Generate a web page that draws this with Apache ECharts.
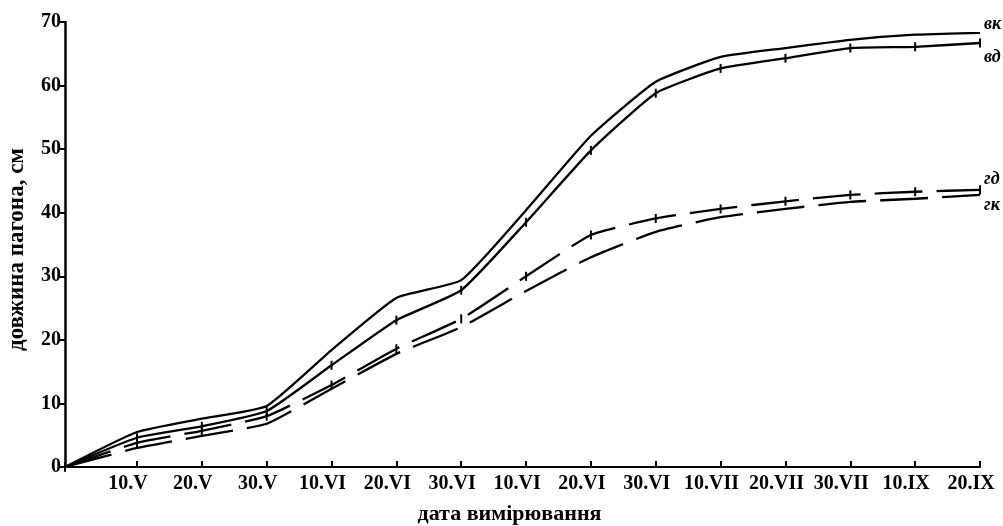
<!DOCTYPE html>
<html>
<head>
<meta charset="utf-8">
<script src="https://cdn.jsdelivr.net/npm/echarts@6/dist/echarts.min.js"></script>
<style>
html,body{margin:0;padding:0;background:#fff;}
#chart{width:1003px;height:526px;}
</style>
</head>
<body>
<div id="chart"></div>
<script>
// date labels (as printed on the original axis)
const dateLabels = ['10.V','20.V','30.V','10.VI','20.VI','30.VI','10.VI','20.VI','30.VI','10.VII','20.VII','30.VII','10.IX','20.IX'];
// measurement positions in 10-day steps (first = start of observation)
const xIndex = [-1.11, 0, 1, 2, 3, 4, 5, 6, 7, 8, 9, 10, 11, 12, 13];
// series values, cm
const vkValues = [0, 5.5, 7.6, 9.6, 18.4, 26.6, 29.4, 40.4, 52.1, 60.6, 64.5, 65.9, 67.2, 68.0, 68.3];
const vdValues = [0, 4.6, 6.4, 8.8, 16.0, 23.1, 27.8, 38.5, 49.8, 58.8, 62.7, 64.3, 65.9, 66.1, 66.7];
const gdValues = [0, 3.8, 5.7, 8.0, 12.9, 18.6, 23.3, 30.0, 36.5, 39.1, 40.6, 41.8, 42.8, 43.3, 43.6];
const gkValues = [0, 3.0, 4.9, 6.8, 12.3, 17.8, 22.0, 27.7, 33.0, 37.0, 39.3, 40.6, 41.7, 42.2, 42.8];

const tickIdx = dateLabels.map((_, i) => i);
const pairs = vals => vals.map((v, i) => [xIndex[i], v]);
const serif = 'Liberation Serif';

function makeSeries(name, vals, dashed, ticks, labelDy) {
  return {
    name: name,
    type: 'line',
    data: pairs(vals),
    smooth: 0.15,
    symbol: ticks ? 'rect' : 'none',
    symbolSize: [2, 9],
    showSymbol: ticks,
    itemStyle: { color: '#000' },
    lineStyle: { color: '#000', width: 2.3, type: dashed ? [48, 14] : 'solid' },
    endLabel: {
      show: true,
      formatter: name,
      distance: 4,
      offset: [0, labelDy],
      color: '#000',
      fontFamily: serif,
      fontStyle: 'italic',
      fontWeight: 'bold',
      fontSize: 18
    },
    emphasis: { disabled: true }
  };
}

const chart = echarts.init(document.getElementById('chart'), null, { renderer: 'canvas' });
chart.setOption({
  animation: false,
  backgroundColor: '#fff',
  grid: { left: 65, right: 23, top: 22, bottom: 59, containLabel: false, outerBoundsMode: 'none' },
  xAxis: {
    type: 'value',
    min: -1.11,
    max: 13,
    axisLine: { onZero: false, lineStyle: { color: '#000', width: 2 } },
    axisTick: { show: true, customValues: tickIdx, inside: true, length: 6, lineStyle: { color: '#000', width: 2 } },
    axisLabel: {
      customValues: tickIdx,
      formatter: v => dateLabels[Math.round(v)],
      color: '#000', fontFamily: serif, fontWeight: 'bold', fontSize: 20,
      margin: 7, padding: [0, 18, 0, 0]
    },
    splitLine: { show: false },
    name: 'дата вимірювання',
    nameLocation: 'middle',
    nameGap: 36,
    nameTextStyle: { color: '#000', fontFamily: serif, fontWeight: 'bold', fontSize: 22, padding: [0, 26, 0, 0] }
  },
  yAxis: {
    type: 'value',
    min: 0,
    max: 70,
    interval: 10,
    axisLine: { show: true, onZero: false, lineStyle: { color: '#000', width: 2.5 } },
    axisTick: { show: true, length: 5, lineStyle: { color: '#000', width: 2 } },
    axisLabel: { color: '#000', fontFamily: serif, fontWeight: 'bold', fontSize: 20, margin: 4, padding: [0, 0, 8, 0] },
    splitLine: { show: false },
    name: 'довжина пагона, см',
    nameLocation: 'middle',
    nameGap: 36,
    nameTextStyle: { color: '#000', fontFamily: serif, fontWeight: 'bold', fontSize: 23, padding: [0, 10, 0, 0] }
  },
  series: [
    makeSeries('вк', vkValues, false, false, -8),
    makeSeries('вд', vdValues, false, true, 14),
    makeSeries('гд', gdValues, true, true, -10),
    makeSeries('гк', gkValues, true, false, 10)
  ]
});
</script>
</body>
</html>
